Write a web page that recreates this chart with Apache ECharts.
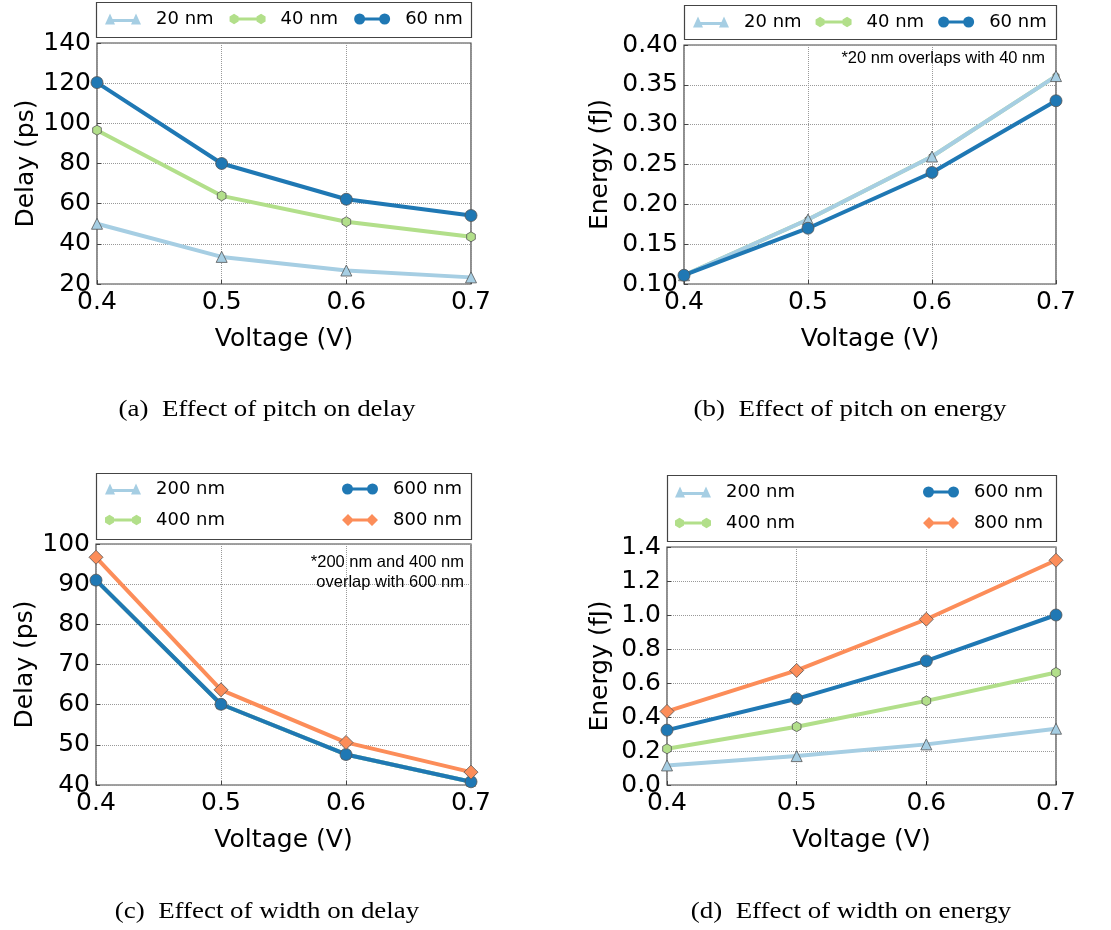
<!DOCTYPE html>
<html>
<head>
<meta charset="utf-8">
<script src="https://cdn.jsdelivr.net/npm/echarts@6/dist/echarts.min.js"></script>
<style>
html,body{margin:0;padding:0;background:#fff;}
#chart{width:1111px;height:930px;}
</style>
</head>
<body>
<div id="chart"></div>
<script>
// ---- data ----
const voltage = [0.4, 0.5, 0.6, 0.7];

const pitchDelay20 = [50, 33.5, 26.7, 23.3];
const pitchDelay40 = [96.6, 63.9, 51, 43.5];
const pitchDelay60 = [120.3, 80, 62.2, 54.1];

const pitchEnergy20 = [0.111, 0.181, 0.26, 0.361];
const pitchEnergy40 = [0.111, 0.181, 0.26, 0.361];
const pitchEnergy60 = [0.111, 0.17, 0.24, 0.33];

const widthDelay200 = [91, 60.1, 47.6, 40.8];
const widthDelay400 = [91, 60.1, 47.6, 40.8];
const widthDelay600 = [91, 60.1, 47.6, 40.8];
const widthDelay800 = [96.7, 63.7, 50.6, 43.2];

const widthEnergy200 = [0.115, 0.17, 0.239, 0.331];
const widthEnergy400 = [0.213, 0.343, 0.495, 0.662];
const widthEnergy600 = [0.323, 0.507, 0.73, 1.0];
const widthEnergy800 = [0.433, 0.674, 0.975, 1.322];

const delayTicksA = [20, 140, 20];
const energyTicksB = [0.10, 0.40, 0.05];
const delayTicksC = [40, 100, 10];
const energyTicksD = [0.0, 1.4, 0.2];

const captions = ['(a)  Effect of pitch on delay', '(b)  Effect of pitch on energy',
                  '(c)  Effect of width on delay', '(d)  Effect of width on energy'];
const noteB = '*20 nm overlaps with 40 nm';
const noteC = ['*200 nm and 400 nm', 'overlap with 600 nm'];

// ---- styles ----
const C_LB = '#a6cee3', C_G = '#b2df8a', C_B = '#1f78b4', C_O = '#fc8d59';
const HEX = 'path://M5,0 L9.33,2.5 L9.33,7.5 L5,10 L0.67,7.5 L0.67,2.5 Z';
const ICON_TRI = 'path://M0,12 L5,1 L10,12 Z M5,6.5 L31,6.5 L31,9.5 L5,9.5 Z M26,12 L31,1 L36,12 Z';
const ICON_CIR = 'path://M0,6 A5.5,5.5 0 1 1 11,6 A5.5,5.5 0 1 1 0,6 Z M5.5,4.5 L30.5,4.5 L30.5,7.5 L5.5,7.5 Z M25,6 A5.5,5.5 0 1 1 36,6 A5.5,5.5 0 1 1 25,6 Z';
const ICON_HEX = 'path://M5,1 L9.33,3.5 L9.33,8.5 L5,11 L0.67,8.5 L0.67,3.5 Z M5,4.5 L31,4.5 L31,7.5 L5,7.5 Z M31,1 L35.33,3.5 L35.33,8.5 L31,11 L26.67,8.5 L26.67,3.5 Z';
const ICON_DIA = 'path://M0,6 L6,0 L12,6 L6,12 Z M6,4.5 L30,4.5 L30,7.5 L6,7.5 Z M24,6 L30,0 L36,6 L30,12 Z';

const FONT = 'DejaVu Sans';
const grids = [
  {left: 97, top: 43, width: 374, height: 241},
  {left: 684, top: 45, width: 372, height: 239},
  {left: 96, top: 544, width: 375, height: 241},
  {left: 667, top: 547, width: 389, height: 238}
];

function pairs(ys) { return voltage.map((v, i) => [v, ys[i]]); }

function xAxis(gi) {
  return {
    type: 'value', gridIndex: gi, min: 0.4, max: 0.7, interval: 0.1,
    name: 'Voltage (V)', nameLocation: 'middle', nameGap: 43,
    nameTextStyle: {fontFamily: FONT, fontSize: 25, color: '#000'},
    axisLine: {show: false},
    axisTick: {show: true, inside: true, length: 4, lineStyle: {color: '#444'}},
    axisLabel: {fontFamily: FONT, fontSize: 25, color: '#000', margin: 6,
      formatter: v => v.toFixed(1)},
    splitLine: {show: true, lineStyle: {type: 'dotted', color: '#999', width: 1}}
  };
}
function yAxis(gi, ticks, name, dec, gap) {
  return {
    type: 'value', gridIndex: gi, min: ticks[0], max: ticks[1], interval: ticks[2],
    name: name, nameLocation: 'middle', nameGap: gap,
    nameTextStyle: {fontFamily: FONT, fontSize: 25, color: '#000'},
    axisLine: {show: false},
    axisTick: {show: true, inside: true, length: 4, lineStyle: {color: '#444'}},
    axisLabel: {fontFamily: FONT, fontSize: 25, color: '#000', margin: 6,
      formatter: v => v.toFixed(dec)},
    splitLine: {show: true, lineStyle: {type: 'dotted', color: '#999', width: 1}}
  };
}
function line(name, gi, ys, color, symbol, size, z) {
  return {
    type: 'line', name: name, xAxisIndex: gi, yAxisIndex: gi, data: pairs(ys),
    symbol: symbol, symbolSize: size, symbolKeepAspect: true, showAllSymbol: true,
    lineStyle: {color: color, width: 4},
    itemStyle: {color: color, borderColor: '#555', borderWidth: 0.8},
    z: z, clip: true, animation: false
  };
}

const series = [
  line('20 nm', 0, pitchDelay20, C_LB, 'triangle', 11, 2),
  line('40 nm', 0, pitchDelay40, C_G, HEX, 10, 3),
  line('60 nm', 0, pitchDelay60, C_B, 'circle', 12, 4),
  line('40 nm', 1, pitchEnergy40, C_G, HEX, 7, 2),
  line('20 nm', 1, pitchEnergy20, C_LB, 'triangle', 11, 3),
  line('60 nm', 1, pitchEnergy60, C_B, 'circle', 12, 4),
  line('200 nm', 2, widthDelay200, C_LB, 'triangle', 9, 2),
  line('400 nm', 2, widthDelay400, C_G, HEX, 9, 2),
  line('600 nm', 2, widthDelay600, C_B, 'circle', 12, 3),
  line('800 nm', 2, widthDelay800, C_O, 'diamond', 14, 4),
  line('200 nm', 3, widthEnergy200, C_LB, 'triangle', 11, 2),
  line('400 nm', 3, widthEnergy400, C_G, HEX, 10, 3),
  line('600 nm', 3, widthEnergy600, C_B, 'circle', 12, 4),
  line('800 nm', 3, widthEnergy800, C_O, 'diamond', 14, 5)
];

function legend(left, top, items, orient, gap) {
  return {
    left: left, top: top, orient: orient, itemGap: gap, padding: 0,
    itemWidth: 36, itemHeight: 13, selectedMode: false,
    itemStyle: {borderWidth: 0},
    textStyle: {fontFamily: FONT, fontSize: 18, color: '#000', padding: [0, 0, 0, 10]},
    data: items
  };
}
const legends = [
  legend(105, 10, [{name: '20 nm', icon: ICON_TRI}, {name: '40 nm', icon: ICON_HEX}, {name: '60 nm', icon: ICON_CIR}], 'horizontal', 16),
  legend(693, 13, [{name: '20 nm', icon: ICON_TRI}, {name: '40 nm', icon: ICON_HEX}, {name: '60 nm', icon: ICON_CIR}], 'horizontal', 14),
  legend(105, 480, [{name: '200 nm', icon: ICON_TRI}, {name: '400 nm', icon: ICON_HEX}], 'vertical', 13),
  legend(342, 480, [{name: '600 nm', icon: ICON_CIR}, {name: '800 nm', icon: ICON_DIA}], 'vertical', 13),
  legend(675, 483, [{name: '200 nm', icon: ICON_TRI}, {name: '400 nm', icon: ICON_HEX}], 'vertical', 13),
  legend(923, 483, [{name: '600 nm', icon: ICON_CIR}, {name: '800 nm', icon: ICON_DIA}], 'vertical', 13)
];

function box(x, y, w, h) {
  return {type: 'rect', shape: {x: x + 0.5, y: y + 0.5, width: w, height: h},
    style: {fill: 'none', stroke: '#444', lineWidth: 1.2}, silent: true, z: 100};
}
function txt(x, y, text, font, size, align, sx) {
  return {type: 'text', x: x, y: y, scaleX: sx || 1, silent: true, z: 100,
    style: {text: text, fontFamily: font, fontSize: size, fill: '#000', textAlign: align, textVerticalAlign: 'middle'}};
}
const graphics = [
  box(96, 2, 375, 35), box(684, 5, 372, 34), box(96, 473, 375, 66), box(667, 475, 389, 66),
  txt(1045, 58, noteB, 'Liberation Sans', 16.5, 'right'),
  txt(464, 562, noteC[0], 'Liberation Sans', 16.5, 'right'),
  txt(464, 582, noteC[1], 'Liberation Sans', 16.5, 'right'),
  txt(267, 410, captions[0], 'Liberation Serif', 23, 'center', 1.17),
  txt(850, 410, captions[1], 'Liberation Serif', 23, 'center', 1.17),
  txt(267, 912, captions[2], 'Liberation Serif', 23, 'center', 1.17),
  txt(851, 912, captions[3], 'Liberation Serif', 23, 'center', 1.17)
];

const chart = echarts.init(document.getElementById('chart'), null, {renderer: 'canvas'});
chart.setOption({
  animation: false,
  backgroundColor: '#fff',
  grid: grids.map(g => Object.assign({show: true, borderColor: '#444', borderWidth: 1.2, backgroundColor: 'transparent', containLabel: false}, g)),
  xAxis: [xAxis(0), xAxis(1), xAxis(2), xAxis(3)],
  yAxis: [
    yAxis(0, delayTicksA, 'Delay (ps)', 0, 58),
    yAxis(1, energyTicksB, 'Energy (fJ)', 2, 71),
    yAxis(2, delayTicksC, 'Delay (ps)', 0, 58),
    yAxis(3, energyTicksD, 'Energy (fJ)', 1, 54)
  ],
  legend: legends,
  series: series,
  graphic: graphics
});
</script>
</body>
</html>
